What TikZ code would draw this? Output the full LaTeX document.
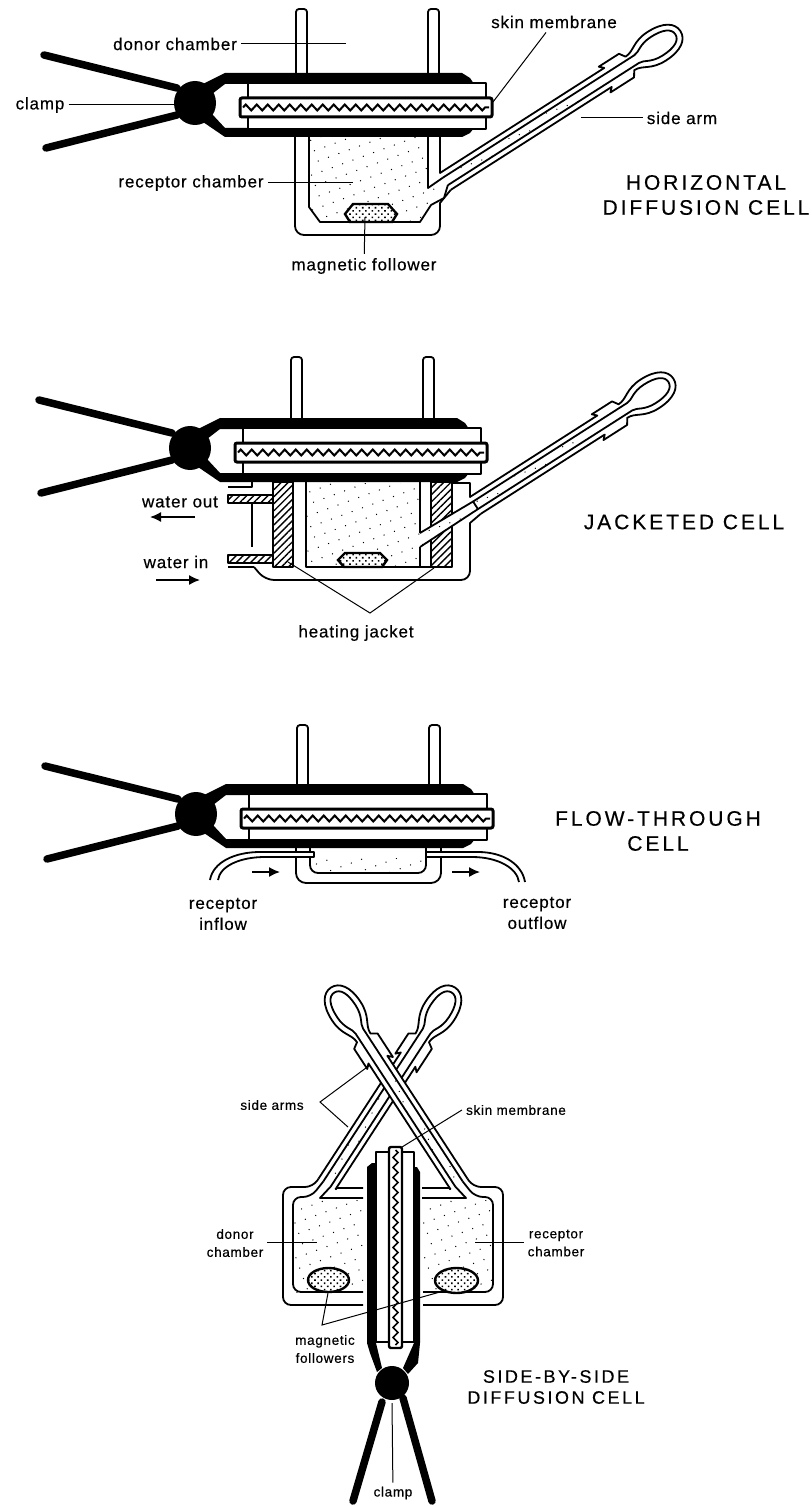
\documentclass[tikz,border=0pt]{standalone}
\usepackage{fontspec}
\usetikzlibrary{arrows.meta,patterns.meta,decorations.pathmorphing}
\newfontfamily\labelfont[LetterSpace=5,FakeBold=0.4]{Liberation Sans}
\newfontfamily\titlefont[LetterSpace=14,FakeBold=0.4]{Liberation Sans}
\tikzset{
  wall/.style={line width=1.8pt,line join=round},
  plate/.style={wall,fill=white},
  leader/.style={line width=1pt},
  clamparm/.style={line width=7.5pt,line cap=round},
  dotfill/.style={pattern={Dots[distance=11pt,radius=.7pt,angle=20]}},
  hatchfill/.style={pattern={Lines[angle=45,distance=5pt,line width=1.4pt]}},
  followerfill/.style={line width=2.4pt,preaction={fill=white},pattern={Dots[distance=4.5pt,radius=1.1pt,angle=45]}},
  wave/.style={line width=2pt,decorate,decoration={zigzag,amplitude=3pt,segment length=11pt}},
  labeltext/.style={font=\labelfont\fontsize{17}{21}\selectfont,align=center,inner sep=4pt},
  smalltext/.style={font=\labelfont\fontsize{13.5}{18}\selectfont,align=center,inner sep=4pt},
  titletext/.style={font=\titlefont\fontsize{21}{25}\selectfont,align=center,inner sep=0pt},
  smalltitle/.style={font=\titlefont\fontsize{18}{21}\selectfont,align=center,inner sep=0pt},
  flowarrow/.style={line width=1.5pt,-{Latex[length=11pt,width=10pt]}}
}
% clamped top part of a cell: offset x, offset y, top of the tubes
\newcommand{\cellbody}[3]{
\begin{scope}[shift={(#1,#2)}]
\draw[plate,rounded corners=3pt] (296,75) -- (296,#3) -- (307,#3) -- (307,75);
\draw[plate,rounded corners=3pt] (428,75) -- (428,#3) -- (439,#3) -- (439,75);
\draw[clamparm] (44,55) -- (177,88);
\draw[clamparm] (46,148) -- (177,115);
\fill (203,84) -- (225,73) -- (462,73) -- (470,78) -- (474,84) -- (225,84) -- (212,94) -- cycle;
\fill (203,122) -- (225,137) -- (462,137) -- (470,133) -- (474,128) -- (225,128) -- (212,114) -- cycle;
\draw[plate] (248,83) rectangle (486,98);
\draw[plate] (248,117) rectangle (486,129);
\draw[line width=3pt,fill=white,rounded corners=2pt] (240,98) rectangle (492,117);
\draw[wave] (243,107.5) -- (489,107.5);
\fill (195,103) ellipse (21pt and 22pt);
\end{scope}
}
% side arm: name, root, angle, distance to the bulb
\newcommand{\sidearm}[4]{
\begin{scope}[shift={#2},rotate=#3]
\draw[wall,fill=white] (0,-10) -- ({#4-62},-10) -- ({#4-66},-14) -- ({#4-42},-14) -- ({#4-38},-8)
  .. controls ({#4-28},-8) and ({#4-24},-17) .. ({#4-6},-17)
  .. controls ({#4+12},-17) and ({#4+22},-10) .. ({#4+22},0)
  .. controls ({#4+22},10) and ({#4+12},17) .. ({#4-6},17)
  .. controls ({#4-24},17) and ({#4-28},8) .. ({#4-38},8)
  -- ({#4-42},14) -- ({#4-70},14) -- ({#4-66},10) -- (0,10);
\fill[white] (0,-4.5) rectangle ({#4-30},4.5);
\fill[dotfill] (0,-4.5) rectangle ({#4-90},4.5);
\draw[wall] (0,-4.5) -- ({#4-30},-4.5)
  .. controls ({#4-24},-4.5) and ({#4-20},-11) .. ({#4-6},-11)
  .. controls ({#4+8},-11) and ({#4+16},-7) .. ({#4+16},0)
  .. controls ({#4+16},7) and ({#4+8},11) .. ({#4-6},11)
  .. controls ({#4-20},11) and ({#4-24},4.5) .. ({#4-30},4.5) -- (0,4.5);
\coordinate (#1uo) at (0,-10);
\coordinate (#1ui) at (0,-4.5);
\coordinate (#1li) at (0,4.5);
\coordinate (#1lo) at (0,10);
\end{scope}
}
\begin{document}
\begin{tikzpicture}[x=1pt,y=-1pt]
\useasboundingbox (0,0) rectangle (811,1506);
\fill[white] (0,0) rectangle (811,1506);

% horizontal cell
\fill[dotfill] (309,137) -- (309,205) -- (320,221) -- (420,221) -- (431,203) -- (444,190) -- (428,188) -- (428,137) -- cycle;
\sidearm{ha}{(445.4,181.4)}{32.6}{257}
\draw[wall,rounded corners=9pt] (295,135) -- (295,235) -- (440,235) -- (440,215);
\draw[wall] (440,216) -- (440,203) -- (halo);
\draw[wall] (440,135) -- (440,173) -- (hauo);
\draw[wall] (428,135) -- (428,188) -- (haui);
\draw[wall] (309,135) -- (309,207) -- (320,222) -- (420,222) -- (431,205) -- (444,198) -- (hali);
\cellbody{0}{0}{9}
\draw[followerfill] (345,214) -- (353,204) -- (388,204) -- (397,214) -- (392,222) -- (350,222) -- cycle;
\node[labeltext] (hdonor) at (175,44) {donor chamber};
\coordinate (hdonorend) at (346,44);
\draw[leader] (hdonor) -- (hdonorend);
\node[labeltext] (hclamp) at (40,105) {clamp};
\coordinate (hclampend) at (174,105);
\draw[leader] (hclamp) -- (hclampend);
\node[labeltext] (hskin) at (554,22) {skin membrane};
\coordinate (hskinend) at (493,102);
\draw[leader] (hskin) -- (hskinend);
\node[labeltext] (hside) at (682,118) {side arm};
\coordinate (hsideend) at (581,118);
\draw[leader] (hside) -- (hsideend);
\node[labeltext] (hrecep) at (191,183) {receptor chamber};
\coordinate (hrecepend) at (353,183);
\draw[leader] (hrecep) -- (hrecepend);
\node[labeltext] (hfoll) at (364,266) {magnetic follower};
\coordinate (hfollend) at (365,217);
\draw[leader] (hfoll) -- (hfollend);
\node[titletext] (htitle) at (706,195) {HORIZONTAL\\DIFFUSION CELL};

% jacketed cell
\fill[dotfill] (306,483) -- (306,567) -- (420,567) -- (420,483) -- cycle;
\draw[wall,hatchfill] (273,482) rectangle (293,567);
\draw[wall,hatchfill] (431,482) rectangle (452,567);
\sidearm{ja}{(475.5,505.3)}{32.6}{213}
\filldraw[wall,fill=white] (420,533) -- (jaui) -- (jali) -- (420,547);
\fill[dotfill] (420,533) -- (jaui) -- (jali) -- (420,547) -- cycle;
\draw[wall] (293,482) -- (293,567);
\draw[wall] (306,482) -- (306,567) -- (431,567) -- (431,555);
\draw[wall] (420,482) -- (420,533);
\draw[wall] (420,567) -- (420,547);
\draw[wall] (452,483) -- (470,483) -- (470,497) -- (jauo);
\draw[wall] (jalo) -- (470,523) -- (470,567);
\draw[wall,rounded corners=9pt] (470,550) -- (470,580) -- (265,580) -- (254,567);
\draw[wall] (254,567) -- (228,567);
\draw[wall] (252,503) -- (252,547);
\draw[wall] (228,487) -- (252,487) -- (252,480);
\draw[wall,hatchfill] (228,495) rectangle (273,503);
\draw[wall,hatchfill] (228,555) rectangle (273,563);
\cellbody{-5}{345}{12}
\draw[followerfill] (338,560) -- (345,553) -- (380,553) -- (387,560) -- (382,567) -- (344,567) -- cycle;
\node[labeltext] (jout) at (180,502) {water out};
\coordinate (jouttail) at (195,517);
\coordinate (jouthead) at (150,517);
\draw[flowarrow] (jouttail) -- (jouthead);
\node[labeltext] (jin) at (176,562) {water in};
\coordinate (jintail) at (156,580);
\coordinate (jinhead) at (200,580);
\draw[flowarrow] (jintail) -- (jinhead);
\node[labeltext] (jheat) at (356,633) {heating jacket};
\coordinate (japex) at (370,613);
\coordinate (jheatl) at (288,562);
\coordinate (jheatr) at (434,568);
\draw[leader] (jheatl) -- (japex) -- (jheatr);
\node[titletext] (jtitle) at (684,522) {JACKETED CELL};

% flow-through cell
\fill[dotfill] (310,858) -- (310,868) -- (319,873) -- (418,873) -- (426,867) -- (426,858) -- cycle;
\draw[wall,rounded corners=10pt] (296,845) -- (296,883) -- (441,883) -- (441,845);
\draw[wall,rounded corners=8pt] (310,845) -- (310,873) -- (426,873) -- (426,845);
\draw[wall,fill=white] (210,880) .. controls (213,862) and (235,852) .. (260,852) -- (314,852) -- (314,857) -- (265,857) .. controls (240,857) and (220,866) .. (218,880);
\draw[wall,fill=white] (525,882) .. controls (522,864) and (503,852) .. (478,852) -- (426,852) -- (426,857) -- (472,857) .. controls (498,857) and (517,868) .. (519,882);
\cellbody{1}{711}{14}
\coordinate (ftinleft) at (252,872);
\coordinate (ftinright) at (280,872);
\draw[flowarrow] (ftinleft) -- (ftinright);
\coordinate (ftoutleft) at (452,872);
\coordinate (ftoutright) at (480,872);
\draw[flowarrow] (ftoutleft) -- (ftoutright);
\node[labeltext] (ftin) at (223,914) {receptor\\inflow};
\node[labeltext] (ftout) at (537,913) {receptor\\outflow};
\node[titletext] (fttitle) at (658,831) {FLOW-THROUGH\\CELL};

% side-by-side cell
\fill[dotfill] (293,1200) -- (293,1292) -- (363,1292) -- (363,1200) -- cycle;
\fill[dotfill] (423,1200) -- (423,1292) -- (493,1292) -- (493,1200) -- cycle;
\sidearm{sa}{(327,1184)}{56.9}{212.5}
\sidearm{sb}{(459,1184)}{123.1}{212.5}
\draw[wall,rounded corners=8pt] (363,1305) -- (283,1305) -- (283,1187) -- (313,1187) -- (sauo);
\draw[wall,rounded corners=8pt] (363,1292) -- (293,1292) -- (293,1197) -- (311,1197) -- (saui);
\draw[wall] (363,1198) -- (320,1198) -- (sali);
\draw[wall] (363,1188) -- (337,1188) -- (salo);
\draw[wall,rounded corners=8pt] (423,1305) -- (503,1305) -- (503,1187) -- (473,1187) -- (sblo);
\draw[wall,rounded corners=8pt] (423,1292) -- (493,1292) -- (493,1197) -- (475,1197) -- (sbli);
\draw[wall] (422,1198) -- (466,1198) -- (sbui);
\draw[wall] (422,1188) -- (449,1188) -- (sbuo);
\draw[clamparm] (382,1402) -- (353,1501);
\draw[clamparm] (403,1398) -- (432,1501);
\fill (367,1167) -- (372,1163) -- (376,1163) -- (376,1343) -- (382,1368) -- (377,1372) -- (370,1353) -- (367,1343) -- cycle;
\fill (414,1167) -- (417,1167) -- (420,1172) -- (420,1343) -- (418,1363) -- (408,1374) -- (403,1368) -- (414,1343) -- cycle;
\draw[plate] (376,1152) rectangle (389,1342);
\draw[plate] (402,1152) rectangle (414,1342);
\draw[line width=2.4pt,fill=white,rounded corners=2pt] (389,1147) rectangle (402,1348);
\draw[wave,line width=1.6pt,decoration={zigzag,amplitude=2.4pt,segment length=10pt}] (395.5,1150) -- (395.5,1345);
\fill (392,1383) ellipse (17pt and 17pt);
\draw[followerfill] (328.5,1280) ellipse (20.5pt and 12pt);
\draw[followerfill] (456.5,1280.5) ellipse (21.5pt and 12.5pt);
\node[smalltext] (sdonor) at (235,1243) {donor\\chamber};
\coordinate (sdonorend) at (317,1242);
\draw[leader] (sdonor.east |- sdonorend) -- (sdonorend);
\node[smalltext] (srecep) at (556,1243) {receptor\\chamber};
\coordinate (srecepend) at (475,1242);
\draw[leader] (srecep.west |- srecepend) -- (srecepend);
\node[smalltext] (sside) at (272,1105) {side arms};
\coordinate (ssidev) at (320,1102);
\coordinate (ssidea) at (370,1065);
\coordinate (ssideb) at (348,1127);
\draw[leader] (ssidea) -- (ssidev) -- (ssideb);
\node[smalltext] (sskin) at (516,1110) {skin membrane};
\coordinate (sskinend) at (402,1147);
\draw[leader] (sskin.west) -- (sskinend);
\node[smalltext] (sfoll) at (325,1349) {magnetic\\followers};
\coordinate (sfollv) at (322,1325);
\coordinate (sfolla) at (328,1293);
\coordinate (sfollb) at (440,1292);
\draw[leader] (sfolla) -- (sfollv) -- (sfollb);
\node[smalltext] (sclamp) at (393,1493) {clamp};
\coordinate (sclampend) at (392,1403);
\draw[leader] (sclamp) -- (sclampend);
\node[smalltitle] (stitle) at (556,1387) {SIDE-BY-SIDE\\DIFFUSION CELL};
\end{tikzpicture}
\end{document}
